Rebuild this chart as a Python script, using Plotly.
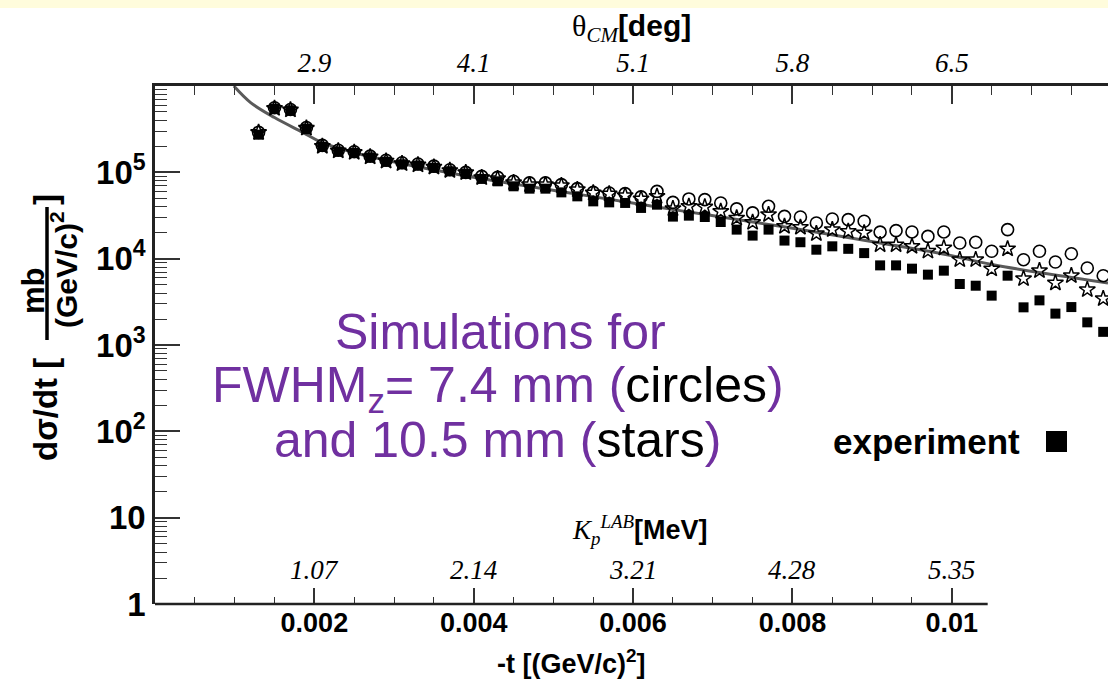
import plotly.graph_objects as go

# ---------------- data ----------------
t_vals = [0.0013, 0.0015, 0.0017, 0.0019, 0.0021, 0.0023, 0.0025, 0.0027, 0.0029, 0.0031,
          0.0033, 0.0035, 0.0037, 0.0039, 0.0041, 0.0043, 0.0045, 0.0047, 0.0049, 0.0051,
          0.0053, 0.0055, 0.0057, 0.0059, 0.0061, 0.0063, 0.0065, 0.0067, 0.0069, 0.0071,
          0.0073, 0.0075, 0.0077, 0.0079, 0.0081, 0.0083, 0.0085, 0.0087, 0.0089, 0.0091,
          0.0093, 0.0095, 0.0097, 0.0099, 0.0101, 0.0103, 0.0105, 0.0107, 0.0109, 0.0111,
          0.0113, 0.0115, 0.0117, 0.0119]

experiment = [2.73e5, 5.47e5, 5.23e5, 3.21e5, 1.97e5, 1.74e5, 1.68e5, 1.49e5, 1.33e5, 1.24e5,
              1.20e5, 1.13e5, 1.03e5, 9.66e4, 8.39e4, 7.87e4, 6.89e4, 6.47e4, 6.47e4, 5.86e4,
              5.27e4, 4.61e4, 4.49e4, 4.42e4, 3.87e4, 4.22e4, 3.07e4, 3.15e4, 3.04e4, 2.66e4,
              2.17e4, 1.85e4, 2.17e4, 1.62e4, 1.55e4, 1.27e4, 1.39e4, 1.30e4, 1.16e4, 8.36e3,
              8.36e3, 7.66e3, 6.53e3, 7.26e3, 5.09e3, 4.86e3, 3.73e3, 6.35e3, 2.73e3, 3.29e3,
              2.31e3, 2.75e3, 1.83e3, 1.42e3]

sim_circles = [2.90e5, 5.60e5, 5.35e5, 3.30e5, 2.05e5, 1.80e5, 1.73e5, 1.54e5, 1.38e5, 1.29e5,
               1.25e5, 1.18e5, 1.07e5, 1.00e5, 8.99e4, 8.75e4, 7.87e4, 7.54e4, 7.54e4, 7.20e4,
               6.47e4, 5.86e4, 5.77e4, 5.66e4, 5.19e4, 6.02e4, 4.49e4, 4.92e4, 4.83e4, 4.42e4,
               3.77e4, 3.39e4, 4.04e4, 3.09e4, 3.04e4, 2.59e4, 2.88e4, 2.83e4, 2.71e4, 2.03e4,
               2.11e4, 2.04e4, 1.81e4, 2.04e4, 1.52e4, 1.55e4, 1.22e4, 2.17e4, 9.73e3, 1.22e4,
               9.16e3, 1.14e4, 7.80e3, 6.35e3]

sim_stars = [2.90e5, 5.50e5, 5.28e5, 3.25e5, 2.00e5, 1.77e5, 1.70e5, 1.51e5, 1.35e5, 1.26e5,
             1.22e5, 1.15e5, 1.05e5, 9.90e4, 8.69e4, 8.45e4, 7.60e4, 7.20e4, 7.20e4, 7.01e4,
             6.30e4, 5.77e4, 5.62e4, 5.37e4, 4.92e4, 5.27e4, 3.80e4, 4.04e4, 3.97e4, 3.53e4,
             2.96e4, 2.63e4, 3.24e4, 2.37e4, 2.31e4, 1.95e4, 2.17e4, 2.07e4, 1.99e4, 1.45e4,
             1.45e4, 1.39e4, 1.22e4, 1.33e4, 9.73e3, 9.73e3, 7.60e3, 1.30e4, 5.86e3, 7.26e3,
             5.23e3, 6.35e3, 4.37e3, 3.44e3]

fit_t = [0.00099, 0.0012, 0.0015, 0.00186, 0.00207, 0.00245, 0.00329, 0.0043, 0.00534,
         0.00659, 0.00785, 0.00923, 0.00994, 0.01052, 0.01196]
fit_v = [1.0e6, 6.43e5, 4.31e5, 2.88e5, 2.27e5, 1.74e5, 1.16e5, 7.87e4, 5.52e4,
         3.60e4, 2.37e4, 1.45e4, 1.11e4, 8.5e3, 5.22e3]

t_ticks = [0.002, 0.004, 0.006, 0.008, 0.01]
t_ticklabels = ["0.002", "0.004", "0.006", "0.008", "0.01"]
theta_labels = ["2.9", "4.1", "5.1", "5.8", "6.5"]
kp_labels = ["1.07", "2.14", "3.21", "4.28", "5.35"]
y_ticks = [1, 10, 100, 1e3, 1e4, 1e5]
y_ticklabels = ["1", "10", "10<sup>2</sup>", "10<sup>3</sup>", "10<sup>4</sup>", "10<sup>5</sup>"]

X_MAX = 0.01196        # right edge of the picture
X_AXIS_END = 0.01045   # where the bottom axis line ends

# ---------------- geometry ----------------
W, H = 1108, 685
ML, MR, MT, MB = 155, 0, 86, 81
PW, PH = W - ML - MR, H - MT - MB


def px(xp):
    return (xp - ML) / PW


def py(yp):
    return (H - MB - yp) / PH


SANS = "Liberation Sans"
SERIF = "Liberation Serif"
PURPLE = "#7030A0"

fig = go.Figure()

fig.add_trace(go.Scatter(x=fit_t, y=fit_v, mode="lines", line=dict(color="#5a5a5a", width=3, shape="spline"),
                         hoverinfo="skip", showlegend=False))
fig.add_trace(go.Scatter(x=t_vals, y=experiment, mode="markers",
                         marker=dict(symbol="square", size=10, color="black"), showlegend=False))
fig.add_trace(go.Scatter(x=t_vals, y=sim_circles, mode="markers", xaxis="x2",
                         marker=dict(symbol="circle-open", size=12, color="black", line=dict(width=1.6)),
                         showlegend=False))
fig.add_trace(go.Scatter(x=t_vals, y=sim_stars, mode="markers",
                         marker=dict(symbol="star-open", size=12, color="black", line=dict(width=1.5)),
                         showlegend=False))

minor_x_bottom = [0.0005, 0.001, 0.0015, 0.0025, 0.003, 0.0035, 0.0045, 0.005, 0.0055,
                  0.0065, 0.007, 0.0075, 0.0085, 0.009, 0.0095]
minor_y = [m * 10 ** k for k in range(0, 6) for m in range(2, 10)]

fig.update_layout(
    width=W, height=H,
    margin=dict(l=ML, r=MR, t=MT, b=MB),
    paper_bgcolor="white", plot_bgcolor="white",
    showlegend=False,
    xaxis=dict(range=[0, X_MAX], tickvals=t_ticks, ticktext=t_ticklabels,
               ticks="inside", ticklen=16, tickwidth=1.5, tickcolor="#333",
               showline=False, showgrid=False, zeroline=False,
               tickfont=dict(family=SANS, size=27, color="black", weight="bold"),
               minor=dict(tickvals=minor_x_bottom, ticks="inside", ticklen=7, tickwidth=1.2,
                          tickcolor="#333", showgrid=False)),
    xaxis2=dict(range=[0, X_MAX], overlaying="x", side="top", anchor="y",
                tickvals=t_ticks, ticktext=theta_labels,
                ticks="inside", ticklen=18, tickwidth=1.5, tickcolor="#333",
                showline=True, linewidth=2.5, linecolor="#222",
                showgrid=False, zeroline=False,
                tickfont=dict(family=SERIF, size=27, color="black", style="italic"),
                minor=dict(tick0=0, dtick=0.0005, ticks="inside", ticklen=9, tickwidth=1.2,
                           tickcolor="#333", showgrid=False)),
    yaxis=dict(type="log", range=[0, 6], tickvals=y_ticks, ticktext=y_ticklabels,
               ticks="inside", ticklen=25, tickwidth=1.5, tickcolor="#333",
               showline=True, linewidth=2.5, linecolor="#222",
               showgrid=False, zeroline=False,
               tickfont=dict(family=SANS, size=33, color="black", weight="bold"),
               minor=dict(tickvals=minor_y, ticks="inside", ticklen=12, tickwidth=1.2,
                          tickcolor="#333", showgrid=False)),
)

shapes = [
    # pale yellow band at top of the slide
    dict(type="rect", xref="paper", yref="paper", x0=px(0), x1=px(W), y0=py(8), y1=py(0),
         fillcolor="#FFFCDC", line=dict(width=0), layer="below"),
    # bottom axis line (ends before the right edge)
    dict(type="line", xref="x", yref="paper", x0=0, x1=X_AXIS_END, y0=0, y1=0,
         line=dict(color="#222", width=2.5)),
    # fraction bar of the y title
    dict(type="line", xref="paper", yref="paper", x0=px(47), x1=px(47), y0=py(340), y1=py(207),
         line=dict(color="black", width=3.5)),
    # legend square
    dict(type="rect", xref="paper", yref="paper", x0=px(1046), x1=px(1067), y0=py(452), y1=py(431),
         fillcolor="black", line=dict(width=0)),
]
fig.update_layout(shapes=shapes)


def note(xp, yp, text, size, family=SANS, color="black", angle=0, xanchor="center"):
    return dict(xref="paper", yref="paper", x=px(xp), y=py(yp), showarrow=False,
                xanchor=xanchor, yanchor="middle", textangle=angle, text=text,
                font=dict(family=family, size=size, color=color))


ann = []
# top axis title
ann.append(note(631, 28,
                f'<span style="font-family:{SERIF}">θ</span><sub><i><span style="font-family:{SERIF}">CM</span></i></sub><b>[deg]</b>',
                30))
# bottom axis title
ann.append(note(571, 662, "<b>-t [(GeV/c)<sup>2</sup>]</b>", 27))
# K_p title
ann.append(note(640, 530,
                f'<i><span style="font-family:{SERIF}">K</span></i><sub><i><span style="font-family:{SERIF}">p</span></i></sub><sup><i><span style="font-family:{SERIF}">LAB</span></i></sup><b>[MeV]</b>',
                27))
# K_p values
for tv, lab in zip(t_ticks, kp_labels):
    ann.append(dict(xref="x", yref="paper", x=tv, y=py(570), showarrow=False,
                    xanchor="center", yanchor="middle",
                    text=f"<i>{lab}</i>", font=dict(family=SERIF, size=27, color="black")))
# big purple note (three lines)
ann.append(note(500, 332, "Simulations for", 50, color=PURPLE))
ann.append(note(498, 388, 'FWHM<sub>z</sub>= 7.4 mm (<span style="color:black">circles</span>)', 50, color=PURPLE))
ann.append(note(497, 440, 'and 10.5 mm (<span style="color:black">stars</span>)', 50, color=PURPLE))
# legend text
ann.append(note(1022, 441, "<b>experiment</b>", 35, xanchor="right"))
# y-axis title pieces (rotated)
ann.append(note(45, 410, "<b>dσ/dt [</b>", 33, angle=-90))
ann.append(note(33, 291, "<b>mb</b>", 31, angle=-90))
ann.append(note(64, 270, "<b>(GeV/c)<sup>2</sup></b>", 30, angle=-90))
ann.append(note(45, 200, "<b>]</b>", 33, angle=-90))
fig.update_layout(annotations=ann)

fig.write_html("out.html")
